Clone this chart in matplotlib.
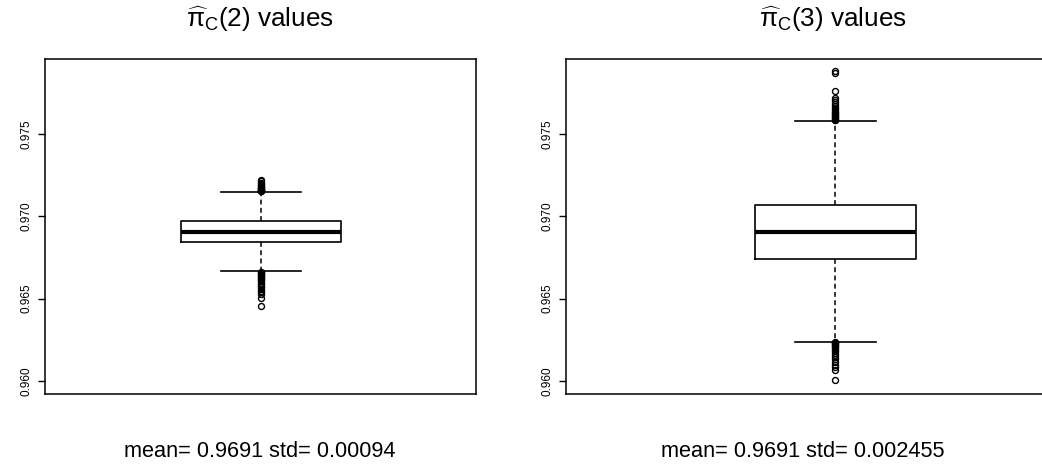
import matplotlib
matplotlib.use("Agg")
import matplotlib.pyplot as plt

plt.rcParams["font.family"] = ["Liberation Sans", "DejaVu Sans"]
plt.rcParams["mathtext.fontset"] = "custom"
plt.rcParams["mathtext.rm"] = "Liberation Sans"
plt.rcParams["mathtext.it"] = "Liberation Sans:italic"
plt.rcParams["mathtext.sf"] = "Liberation Sans"

# Summary statistics of the two estimators
titles = [r"$\widehat{\mathrm{\pi}}_{\mathrm{C}}$(2) values", r"$\widehat{\mathrm{\pi}}_{\mathrm{C}}$(3) values"]
summaries = ["mean= 0.9691 std= 0.00094", "mean= 0.9691 std= 0.002455"]
medians = [0.96906, 0.96905]
q1 = [0.96846, 0.96741]
q3 = [0.96974, 0.97071]
whisker_low = [0.96666, 0.96239]
whisker_high = [0.97150, 0.97581]
outliers_2 = [0.97153, 0.97155, 0.97158, 0.97160, 0.97163, 0.97166, 0.97170,
              0.97174, 0.97178, 0.97183, 0.97189, 0.97196, 0.97205, 0.97214,
              0.97222,
              0.96662, 0.96658, 0.96654, 0.96650, 0.96645, 0.96640, 0.96634,
              0.96628, 0.96621, 0.96614, 0.96606, 0.96598, 0.96589, 0.96580,
              0.96570, 0.96560, 0.96549, 0.96538, 0.96526, 0.96506, 0.96457]
outliers_3 = [0.97584, 0.97588, 0.97592, 0.97597, 0.97602, 0.97608, 0.97614,
              0.97620, 0.97627, 0.97634, 0.97642, 0.97651, 0.97660, 0.97670,
              0.97682, 0.97695, 0.97708, 0.97721, 0.97764, 0.97868, 0.97883,
              0.96236, 0.96232, 0.96228, 0.96223, 0.96218, 0.96212, 0.96205,
              0.96198, 0.96190, 0.96181, 0.96171, 0.96160, 0.96148, 0.96134,
              0.96118, 0.96100, 0.96082, 0.96069, 0.96008]
outliers = [outliers_2, outliers_3]
yticks = [0.960, 0.965, 0.970, 0.975]
ytick_labels = ["0.960", "0.965", "0.970", "0.975"]

W, H = 1042, 465
fig = plt.figure(figsize=(W / 100, H / 100), dpi=100)

def px_axes(x0, x1, ytop, ybot):
    return [x0 / W, (H - ybot) / H, (x1 - x0) / W, (ybot - ytop) / H]

axes = [fig.add_axes(px_axes(44.7, 475.7, 59.3, 394)),
        fig.add_axes(px_axes(566, 1050, 59.3, 394))]
xlims = [(0.4593, 1.537), (0.3304, 1.533)]
title_x = [260, 833]
label_x = [260, 803]

for i, ax in enumerate(axes):
    stats = [dict(med=medians[i], q1=q1[i], q3=q3[i],
                  whislo=whisker_low[i], whishi=whisker_high[i],
                  fliers=outliers[i])]
    ax.bxp(stats, positions=[1], widths=[0.4], capwidths=[0.2],
           showfliers=True,
           boxprops=dict(color="black", linewidth=1.2),
           medianprops=dict(color="black", linewidth=3.0, solid_capstyle="butt"),
           whiskerprops=dict(color="black", linewidth=1.1, linestyle=(0, (3.2, 2.2))),
           capprops=dict(color="black", linewidth=1.2),
           flierprops=dict(marker="o", markersize=4.3, markerfacecolor="none",
                           markeredgecolor="black", markeredgewidth=1.0,
                           linestyle="none"))
    ax.set_xlim(*xlims[i])
    ax.set_ylim(0.95921, 0.97954)
    ax.set_xticks([])
    ax.set_yticks(yticks)
    ax.set_yticklabels(ytick_labels, rotation=90, va="center", fontsize=8.5)
    ax.tick_params(axis="y", length=5, width=1.0, pad=4, direction="out")
    for s in ax.spines.values():
        s.set_linewidth(1.1)
        s.set_color("black")
    fig.text(title_x[i] / W, (H - 27) / H, titles[i], ha="center",
             va="baseline", fontsize=18.8)
    fig.text(label_x[i] / W, (H - 457) / H, summaries[i], ha="center",
             va="baseline", fontsize=15.7)

fig.savefig("out.png", dpi=100)
